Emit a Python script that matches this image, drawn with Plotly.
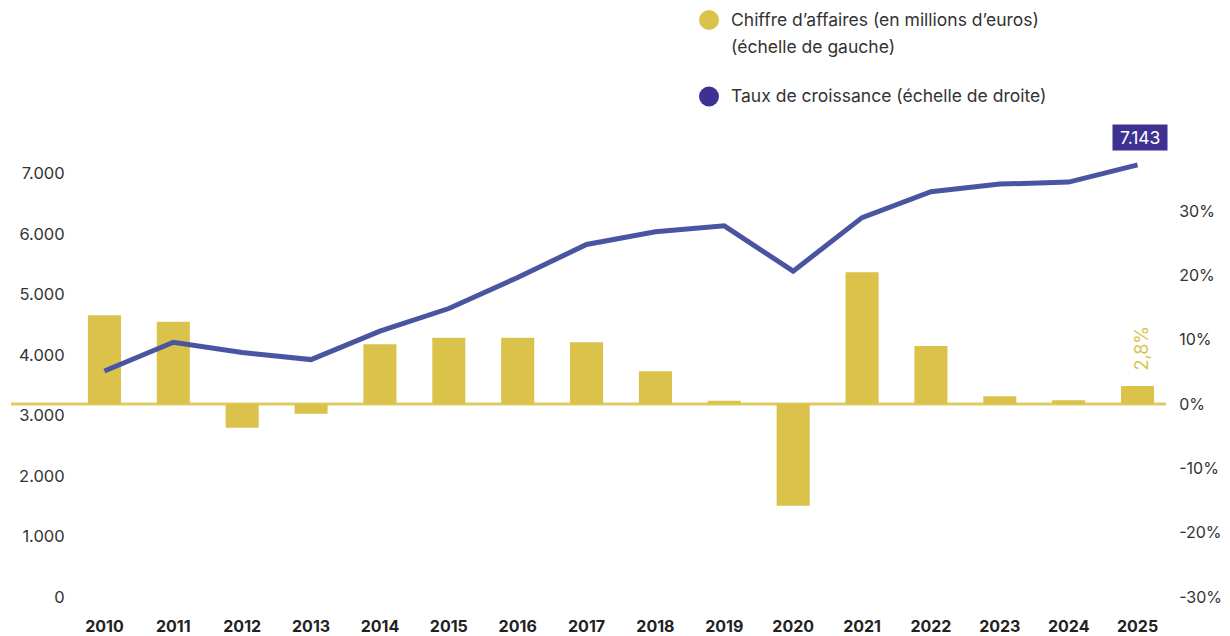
import plotly.graph_objects as go

years = [2010, 2011, 2012, 2013, 2014, 2015, 2016, 2017, 2018, 2019, 2020, 2021, 2022, 2023, 2024, 2025]
revenue = [3737, 4211, 4041, 3925, 4394, 4769, 5282, 5828, 6037, 6136, 5386, 6272, 6699, 6826, 6859, 7143]
growth = [13.8, 12.8, -3.7, -1.5, 9.3, 10.3, 10.3, 9.6, 5.1, 0.5, -15.8, 20.5, 9.0, 1.2, 0.6, 2.8]

left_ticks = [0, 1000, 2000, 3000, 4000, 5000, 6000, 7000]
left_ticktext = ["0", "1.000", "2.000", "3.000", "4.000", "5.000", "6.000", "7.000"]
right_ticks = [-30, -20, -10, 0, 10, 20, 30]
right_ticktext = ["-30%", "-20%", "-10%", "0%", "10%", "20%", "30%"]

last_rev_label = "7.143"
last_growth_label = "2,8%"
legend_line1 = "Chiffre d’affaires (en millions d’euros)"
legend_line2 = "(échelle de gauche)"
legend_line3 = "Taux de croissance (échelle de droite)"

YELLOW = "#DAC24B"
BLUE_LINE = "#4A55A2"
PURPLE = "#3D3192"
TEXT = "#333333"
FONT = "Inter"

W, H = 1230, 636
ML, MR, MT, MB = 70, 58, 150, 39
PW, PH = W - ML - MR, H - MT - MB


def px(x):
    return (x - ML) / PW


def py(y):
    return (H - MB - y) / PH


fig = go.Figure()
fig.add_trace(go.Bar(x=years, y=growth, yaxis="y", marker=dict(color=YELLOW, line=dict(width=0)),
                     showlegend=False, hoverinfo="skip"))
fig.add_trace(go.Scatter(x=years, y=revenue, yaxis="y2", mode="lines",
                         line=dict(color=BLUE_LINE, width=5), showlegend=False, hoverinfo="skip"))

shapes = [
    dict(type="line", xref="paper", yref="y", x0=px(11), x1=px(1166), y0=0, y1=0,
         line=dict(color="#DFCB66", width=3), layer="below"),
    dict(type="circle", xref="paper", yref="paper", x0=px(699), x1=px(719), y0=py(30), y1=py(10),
         fillcolor=YELLOW, line=dict(width=0)),
    dict(type="circle", xref="paper", yref="paper", x0=px(699), x1=px(719), y0=py(106.5), y1=py(86.5),
         fillcolor=PURPLE, line=dict(width=0)),
]

annotations = [
    dict(x=years[-1], y=revenue[-1], xref="x", yref="y2", text="&nbsp;" + last_rev_label + "&nbsp;",
         showarrow=False, yshift=27, xshift=2, bgcolor=PURPLE, borderpad=2,
         font=dict(color="white", size=17.5, family=FONT)),
    dict(x=years[-1], y=growth[-1], xref="x", yref="y", text=last_growth_label, showarrow=False,
         textangle=-90, yshift=38, xshift=3, font=dict(color=YELLOW, size=18, family=FONT)),
    dict(x=px(729), y=py(19), xref="paper", yref="paper", text=legend_line1, showarrow=False,
         xanchor="left", yanchor="middle", font=dict(color=TEXT, size=17.5, family=FONT)),
    dict(x=px(729), y=py(46), xref="paper", yref="paper", text=legend_line2, showarrow=False,
         xanchor="left", yanchor="middle", font=dict(color=TEXT, size=17.5, family=FONT)),
    dict(x=px(729), y=py(96), xref="paper", yref="paper", text=legend_line3, showarrow=False,
         xanchor="left", yanchor="middle", font=dict(color=TEXT, size=17.5, family=FONT)),
]

fig.update_layout(
    width=W, height=H,
    margin=dict(l=ML, r=MR, t=MT, b=MB, autoexpand=False),
    paper_bgcolor="white", plot_bgcolor="white",
    bargap=0.52,
    xaxis=dict(range=[2009.5, 2025.5], tickvals=years, ticktext=[str(y) for y in years],
               showgrid=False, zeroline=False, showline=False, automargin=False,
               ticks="outside", ticklen=15, tickcolor="rgba(0,0,0,0)",
               tickfont=dict(family=FONT + ", Arial", size=16, color="#222222", weight="bold")),
    yaxis=dict(range=[-30, -30 + PH / 6.433], side="right", tickvals=right_ticks, ticktext=right_ticktext,
               showgrid=False, zeroline=False, showline=False, automargin=False,
               ticks="outside", ticklen=3, tickcolor="rgba(0,0,0,0)",
               tickfont=dict(family=FONT, size=16, color=TEXT)),
    yaxis2=dict(range=[0, PH / 0.06049], side="left", overlaying="y", tickvals=left_ticks,
                ticktext=left_ticktext, showgrid=False, zeroline=False, showline=False, automargin=False,
                ticks="outside", ticklen=1, tickcolor="rgba(0,0,0,0)",
                tickfont=dict(family=FONT, size=16.5, color=TEXT)),
    shapes=shapes,
    annotations=annotations,
)

fig.write_html("out.html")
